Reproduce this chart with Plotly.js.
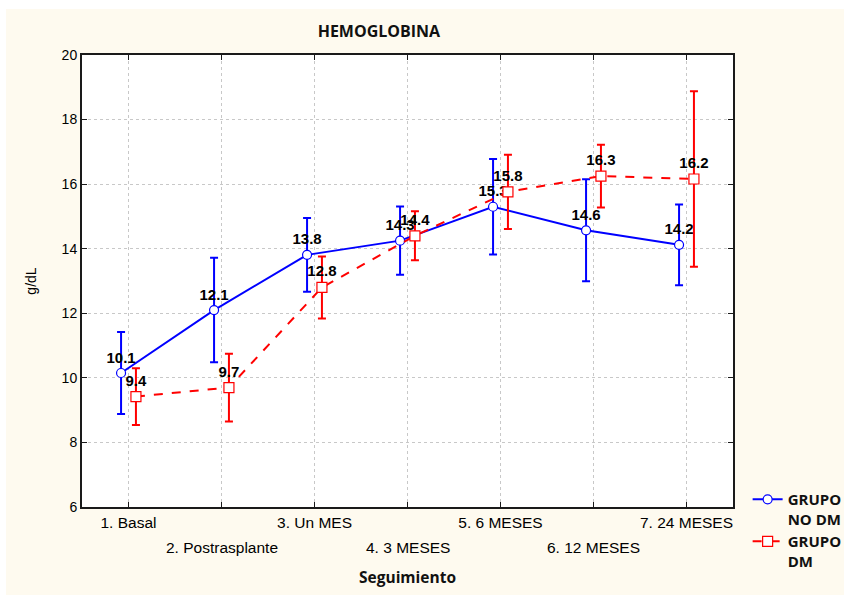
<!DOCTYPE html>
<html><head><meta charset="utf-8">
<script src="https://cdn.plot.ly/plotly-3.0.1.min.js"></script>
<style>
html,body{margin:0;padding:0;background:#fff;}
#chart{position:absolute;left:6px;top:9px;width:838px;height:586px;}
</style></head><body><div id="chart"></div>
<script>
const categories = ["1. Basal","2. Postrasplante","3. Un MES","4. 3 MESES","5. 6 MESES","6. 12 MESES","7. 24 MESES"];
const catIndex = [1,2,3,4,5,6,7];
const noDmMean = [10.15, 12.1, 13.81, 14.25, 15.3, 14.57, 14.12];
const noDmErr = [1.27, 1.62, 1.14, 1.06, 1.48, 1.58, 1.25];
const noDmLabels = ["10.1","12.1","13.8","14.3","15.3","14.6","14.2"];
const dmMean = [9.42, 9.7, 12.8, 14.4, 15.76, 16.25, 16.16];
const dmErr = [0.88, 1.05, 0.96, 0.76, 1.15, 0.97, 2.72];
const dmLabels = ["9.4","9.7","12.8","14.4","15.8","16.3","16.2"];
const yTicks = [6,8,10,12,14,16,18,20];
const offset = 0.08;

const blue = 'rgb(0,0,255)', red = 'rgb(255,0,0)';
const labelFont = {family:'Liberation Sans, Arial, sans-serif', size:15, color:'#000', weight:'bold'};

const traces = [
  {
    x: catIndex.map(c => c - offset), y: noDmMean, name: 'GRUPO<br>NO DM',
    type: 'scatter', mode: 'lines+markers+text', text: noDmLabels, textposition: 'top center',
    textfont: labelFont,
    line: {color: blue, width: 2},
    marker: {symbol: 'circle', size: 9, color: '#fff', line: {color: blue, width: 1.2}},
    error_y: {type: 'data', array: noDmErr, visible: true, color: blue, thickness: 2, width: 4},
    cliponaxis: false
  },
  {
    x: catIndex.map(c => c + offset), y: dmMean, name: 'GRUPO<br>DM',
    type: 'scatter', mode: 'lines+markers+text', text: dmLabels, textposition: 'top center',
    textfont: labelFont,
    line: {color: red, width: 2, dash: 'dash'},
    marker: {symbol: 'square', size: 10, color: '#fff', line: {color: red, width: 1.2}},
    error_y: {type: 'data', array: dmErr, visible: true, color: red, thickness: 2, width: 4},
    cliponaxis: false
  }
];

const tickFont = {family:'Liberation Sans, Arial, sans-serif', size:14, color:'#000'};
const xTickFont = {family:'Liberation Sans, Arial, sans-serif', size:15.5, color:'#000'};
const axisCommon = {
  showline: true, linewidth: 2, linecolor: '#1a1a1a', mirror: 'ticks',
  ticks: 'inside', ticklen: 5, tickcolor: '#1a1a1a', tickwidth: 1,
  showgrid: true, gridcolor: '#c8c8c8', griddash: 'dot', gridwidth: 1,
  zeroline: false, tickfont: tickFont
};

// even-numbered categories are drawn on a second row below the axis
const evenAnnotations = catIndex.filter((c, i) => i % 2 === 1).map(c => ({
  x: c, xref: 'x', y: 0, yref: 'paper', yanchor: 'top', xanchor: 'center',
  yshift: -30, showarrow: false, text: categories[c - 1], font: xTickFont
}));

const layout = {
  width: 838, height: 586,
  paper_bgcolor: '#fefaef', plot_bgcolor: '#ffffff',
  margin: {l: 76, r: 111, t: 46, b: 88},
  title: {text: 'HEMOGLOBINA', font: {family: 'Open Sans, sans-serif', size: 16, color: '#111', weight: 'bold'},
          x: 0.445, xanchor: 'center', y: 0.961, yanchor: 'middle'},
  xaxis: Object.assign({}, axisCommon, {
    range: [0.5, 7.5], tickvals: catIndex, tickfont: xTickFont,
    ticktext: categories.map((c, i) => i % 2 === 0 ? c : ''),
    title: {text: 'Seguimiento', font: {family: 'Open Sans, sans-serif', size: 15.5, color: '#111', weight: 'bold'}, standoff: 43}
  }),
  yaxis: Object.assign({}, axisCommon, {
    range: [6, 20], tickvals: yTicks,
    title: {text: 'g/dL', font: {family: 'Liberation Sans, Arial, sans-serif', size: 14, color: '#000'}, standoff: 22}
  }),
  annotations: evenAnnotations,
  showlegend: true,
  legend: {
    xref: 'container', yref: 'container', x: 0.885, y: 0.191, xanchor: 'left', yanchor: 'top',
    bgcolor: 'rgba(0,0,0,0)', font: {family: 'Open Sans, sans-serif', size: 15, color: '#111', weight: 'bold'},
    tracegroupgap: 3, valign: 'top'
  }
};

Plotly.newPlot('chart', traces, layout, {displayModeBar: false, staticPlot: true});
</script></body></html>
